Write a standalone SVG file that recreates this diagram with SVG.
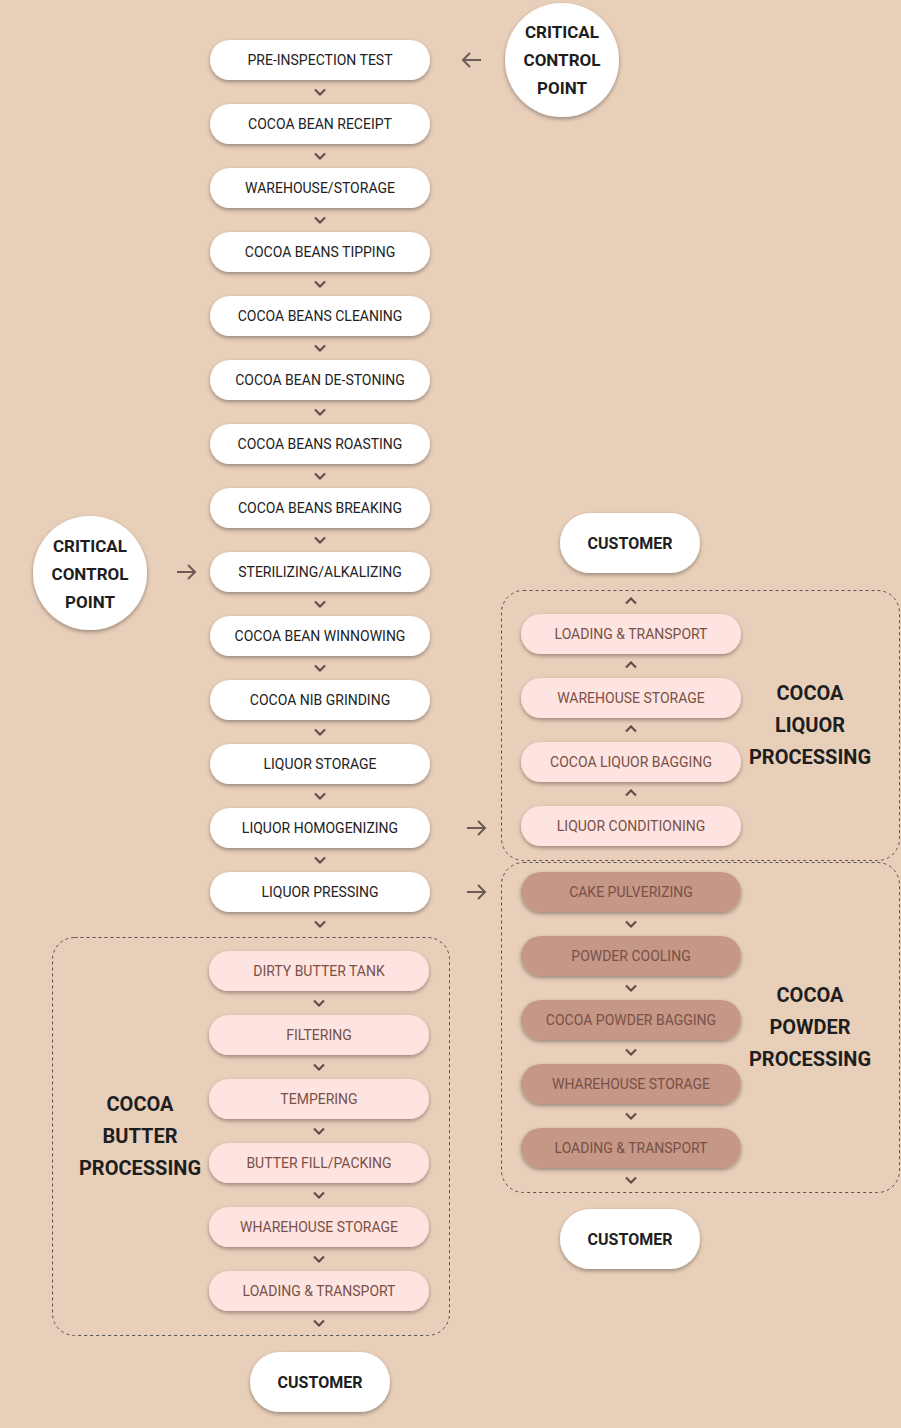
<svg xmlns="http://www.w3.org/2000/svg" width="901" height="1428" viewBox="0 0 901 1428">
<style>
.bg{fill:#e8cfba}
.pw{fill:#ffffff;filter:url(#sh)}
.pp{fill:#fde4e1;filter:url(#sh)}
.pb{fill:#c49787;filter:url(#sh)}
.tw{font-family:Roboto,"Liberation Sans",sans-serif;font-size:14px;fill:#222;text-anchor:middle;dominant-baseline:central}
.tp{font-family:Roboto,"Liberation Sans",sans-serif;font-size:14px;fill:#7a5046;text-anchor:middle;dominant-baseline:central}
.tb{font-family:Roboto,"Liberation Sans",sans-serif;font-size:14px;fill:#7a5046;text-anchor:middle;dominant-baseline:central}
.bold{font-family:Roboto,"Liberation Sans",sans-serif;font-weight:bold;fill:#1e1e1e;text-anchor:middle;dominant-baseline:central}
.box{fill:none;stroke:#555;stroke-width:1;stroke-dasharray:3 3}
.chev{fill:none;stroke:#5a4a45;stroke-width:2}
.arr{fill:none;stroke:#6b5a55;stroke-width:2}
</style>
<defs>
<filter id="sh" x="-20%" y="-30%" width="140%" height="170%">
<feDropShadow dx="0" dy="2" stdDeviation="2" flood-color="#000" flood-opacity="0.35"/>
</filter>
<symbol id="dn" overflow="visible"><polyline class="chev" points="-5,-2.5 0,2.5 5,-2.5"/></symbol>
<symbol id="up" overflow="visible"><polyline class="chev" points="-5,2.5 0,-2.5 5,2.5"/></symbol>
</defs>
<rect class="bg" x="0" y="0" width="901" height="1428"/>

<g id="boxes">
<rect id="liquor-box" class="box" x="501.5" y="590.5" width="398" height="270" rx="22"/>
<rect id="powder-box" class="box" x="501.5" y="862.5" width="398" height="330" rx="22"/>
<rect id="butter-box" class="box" x="52.5" y="937.5" width="397" height="398" rx="22"/>
</g>

<g id="connectors">
<use href="#dn" x="320" y="92"/>
<use href="#dn" x="320" y="156"/>
<use href="#dn" x="320" y="220"/>
<use href="#dn" x="320" y="284"/>
<use href="#dn" x="320" y="348"/>
<use href="#dn" x="320" y="412"/>
<use href="#dn" x="320" y="476"/>
<use href="#dn" x="320" y="540"/>
<use href="#dn" x="320" y="604"/>
<use href="#dn" x="320" y="668"/>
<use href="#dn" x="320" y="732"/>
<use href="#dn" x="320" y="796"/>
<use href="#dn" x="320" y="860"/>
<use href="#dn" x="320" y="924"/>
<use href="#dn" x="319" y="1003"/>
<use href="#dn" x="319" y="1067"/>
<use href="#dn" x="319" y="1131"/>
<use href="#dn" x="319" y="1195"/>
<use href="#dn" x="319" y="1259"/>
<use href="#dn" x="319" y="1323"/>
<use href="#up" x="631" y="601"/>
<use href="#up" x="631" y="665"/>
<use href="#up" x="631" y="729"/>
<use href="#up" x="631" y="793"/>
<use href="#dn" x="631" y="924"/>
<use href="#dn" x="631" y="988"/>
<use href="#dn" x="631" y="1052"/>
<use href="#dn" x="631" y="1116"/>
<use href="#dn" x="631" y="1180"/>
<g id="arrow-ccp1"><path class="arr" d="M481 60H463M470 53L463 60L470 67"/></g>
<g id="arrow-ccp2"><path class="arr" d="M177 572H195M188 565L195 572L188 579"/></g>
<g id="arrow-liquor"><path class="arr" d="M467 828H485M478 821L485 828L478 835"/></g>
<g id="arrow-powder"><path class="arr" d="M467 892H485M478 885L485 892L478 899"/></g>
</g>

<g id="n1"><rect class="pw" x="210" y="40" width="220" height="40" rx="20"/><text class="tw" x="320" y="60">PRE-INSPECTION TEST</text></g>
<g id="n2"><rect class="pw" x="210" y="104" width="220" height="40" rx="20"/><text class="tw" x="320" y="124">COCOA BEAN RECEIPT</text></g>
<g id="n3"><rect class="pw" x="210" y="168" width="220" height="40" rx="20"/><text class="tw" x="320" y="188">WAREHOUSE/STORAGE</text></g>
<g id="n4"><rect class="pw" x="210" y="232" width="220" height="40" rx="20"/><text class="tw" x="320" y="252">COCOA BEANS TIPPING</text></g>
<g id="n5"><rect class="pw" x="210" y="296" width="220" height="40" rx="20"/><text class="tw" x="320" y="316">COCOA BEANS CLEANING</text></g>
<g id="n6"><rect class="pw" x="210" y="360" width="220" height="40" rx="20"/><text class="tw" x="320" y="380">COCOA BEAN DE-STONING</text></g>
<g id="n7"><rect class="pw" x="210" y="424" width="220" height="40" rx="20"/><text class="tw" x="320" y="444">COCOA BEANS ROASTING</text></g>
<g id="n8"><rect class="pw" x="210" y="488" width="220" height="40" rx="20"/><text class="tw" x="320" y="508">COCOA BEANS BREAKING</text></g>
<g id="n9"><rect class="pw" x="210" y="552" width="220" height="40" rx="20"/><text class="tw" x="320" y="572">STERILIZING/ALKALIZING</text></g>
<g id="n10"><rect class="pw" x="210" y="616" width="220" height="40" rx="20"/><text class="tw" x="320" y="636">COCOA BEAN WINNOWING</text></g>
<g id="n11"><rect class="pw" x="210" y="680" width="220" height="40" rx="20"/><text class="tw" x="320" y="700">COCOA NIB GRINDING</text></g>
<g id="n12"><rect class="pw" x="210" y="744" width="220" height="40" rx="20"/><text class="tw" x="320" y="764">LIQUOR STORAGE</text></g>
<g id="n13"><rect class="pw" x="210" y="808" width="220" height="40" rx="20"/><text class="tw" x="320" y="828">LIQUOR HOMOGENIZING</text></g>
<g id="n14"><rect class="pw" x="210" y="872" width="220" height="40" rx="20"/><text class="tw" x="320" y="892">LIQUOR PRESSING</text></g>

<g id="ccp1"><circle cx="562" cy="60" r="57" fill="#fff" filter="url(#sh)"/><text class="bold" font-size="17" x="562" y="32">CRITICAL</text><text class="bold" font-size="17" x="562" y="60">CONTROL</text><text class="bold" font-size="17" x="562" y="88">POINT</text></g>
<g id="ccp2"><circle cx="90" cy="573" r="57" fill="#fff" filter="url(#sh)"/><text class="bold" font-size="17" x="90" y="546">CRITICAL</text><text class="bold" font-size="17" x="90" y="574">CONTROL</text><text class="bold" font-size="17" x="90" y="602">POINT</text></g>

<g id="l1"><rect class="pp" x="521" y="614" width="220" height="40" rx="20"/><text class="tp" x="631" y="634">LOADING &amp; TRANSPORT</text></g>
<g id="l2"><rect class="pp" x="521" y="678" width="220" height="40" rx="20"/><text class="tp" x="631" y="698">WAREHOUSE STORAGE</text></g>
<g id="l3"><rect class="pp" x="521" y="742" width="220" height="40" rx="20"/><text class="tp" x="631" y="762">COCOA LIQUOR BAGGING</text></g>
<g id="l4"><rect class="pp" x="521" y="806" width="220" height="40" rx="20"/><text class="tp" x="631" y="826">LIQUOR CONDITIONING</text></g>
<g id="liquor-label"><text class="bold" font-size="20" x="810" y="693">COCOA</text><text class="bold" font-size="20" x="810" y="725">LIQUOR</text><text class="bold" font-size="20" x="810" y="757">PROCESSING</text></g>

<g id="p1"><rect class="pb" x="521" y="872" width="220" height="40" rx="20"/><text class="tb" x="631" y="892">CAKE PULVERIZING</text></g>
<g id="p2"><rect class="pb" x="521" y="936" width="220" height="40" rx="20"/><text class="tb" x="631" y="956">POWDER COOLING</text></g>
<g id="p3"><rect class="pb" x="521" y="1000" width="220" height="40" rx="20"/><text class="tb" x="631" y="1020">COCOA POWDER BAGGING</text></g>
<g id="p4"><rect class="pb" x="521" y="1064" width="220" height="40" rx="20"/><text class="tb" x="631" y="1084">WHAREHOUSE STORAGE</text></g>
<g id="p5"><rect class="pb" x="521" y="1128" width="220" height="40" rx="20"/><text class="tb" x="631" y="1148">LOADING &amp; TRANSPORT</text></g>
<g id="powder-label"><text class="bold" font-size="20" x="810" y="995">COCOA</text><text class="bold" font-size="20" x="810" y="1027">POWDER</text><text class="bold" font-size="20" x="810" y="1059">PROCESSING</text></g>

<g id="b1"><rect class="pp" x="209" y="951" width="220" height="40" rx="20"/><text class="tp" x="319" y="971">DIRTY BUTTER TANK</text></g>
<g id="b2"><rect class="pp" x="209" y="1015" width="220" height="40" rx="20"/><text class="tp" x="319" y="1035">FILTERING</text></g>
<g id="b3"><rect class="pp" x="209" y="1079" width="220" height="40" rx="20"/><text class="tp" x="319" y="1099">TEMPERING</text></g>
<g id="b4"><rect class="pp" x="209" y="1143" width="220" height="40" rx="20"/><text class="tp" x="319" y="1163">BUTTER FILL/PACKING</text></g>
<g id="b5"><rect class="pp" x="209" y="1207" width="220" height="40" rx="20"/><text class="tp" x="319" y="1227">WHAREHOUSE STORAGE</text></g>
<g id="b6"><rect class="pp" x="209" y="1271" width="220" height="40" rx="20"/><text class="tp" x="319" y="1291">LOADING &amp; TRANSPORT</text></g>
<g id="butter-label"><text class="bold" font-size="20" x="140" y="1104">COCOA</text><text class="bold" font-size="20" x="140" y="1136">BUTTER</text><text class="bold" font-size="20" x="140" y="1168">PROCESSING</text></g>

<g id="customer1"><rect class="pw" x="560" y="513" width="140" height="60" rx="30"/><text class="bold" font-size="16" x="630" y="543">CUSTOMER</text></g>
<g id="customer2"><rect class="pw" x="560" y="1209" width="140" height="60" rx="30"/><text class="bold" font-size="16" x="630" y="1239">CUSTOMER</text></g>
<g id="customer3"><rect class="pw" x="250" y="1352" width="140" height="60" rx="30"/><text class="bold" font-size="16" x="320" y="1382">CUSTOMER</text></g>
</svg>
